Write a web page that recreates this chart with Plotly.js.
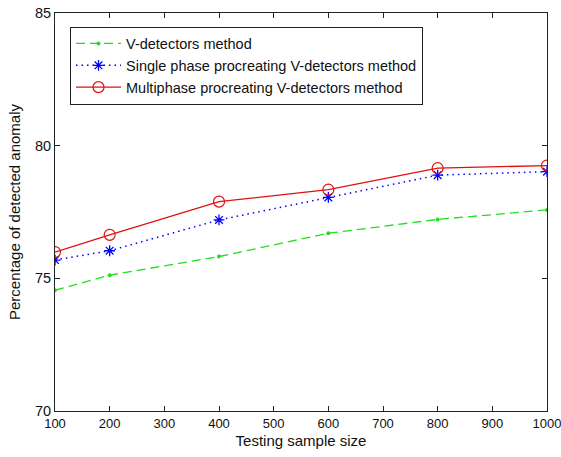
<!DOCTYPE html>
<html>
<head>
<meta charset="utf-8">
<script src="https://cdn.plot.ly/plotly-3.0.1.min.js"></script>
<style>html,body{margin:0;padding:0;background:#fff;}#chart{width:561px;height:457px;}</style>
</head>
<body>
<div id="chart"></div>
<script>
const sampleSizes = [100, 200, 400, 600, 800, 1000];
const vDetectors = [74.55, 75.12, 75.82, 76.70, 77.22, 77.58];
const singlePhase = [75.69, 76.04, 77.20, 78.05, 78.89, 79.02];
const multiPhase = [75.99, 76.64, 77.89, 78.34, 79.15, 79.25];
const seriesNames = ['V-detectors method', 'Single phase procreating V-detectors method', 'Multiphase procreating V-detectors method'];
const xTicks = [100, 200, 300, 400, 500, 600, 700, 800, 900, 1000];
const yTicks = [70, 75, 80, 85];

const fam = 'Liberation Sans, Arial, sans-serif';
const font = {family: fam, size: 15, color: '#111'};
const xTickFont = {family: fam, size: 13, color: '#111'};
const yTickFont = {family: fam, size: 14.5, color: '#111'};

const traces = [
  {x: sampleSizes, y: vDetectors, name: seriesNames[0], mode: 'lines+markers',
   line: {color: '#22dd22', dash: '9px,5px', width: 1.3},
   marker: {symbol: 'circle', size: 4, color: '#22dd22'}},
  {x: sampleSizes, y: singlePhase, name: seriesNames[1], mode: 'lines+markers',
   line: {color: '#0000ff', dash: '1.5px,4px', width: 1.5},
   marker: {symbol: 'asterisk-open', size: 9, line: {color: '#0000ff', width: 1.3}}},
  {x: sampleSizes, y: multiPhase, name: seriesNames[2], mode: 'lines+markers',
   line: {color: '#e01010', width: 1.3},
   marker: {symbol: 'circle-open', size: 11, line: {color: '#e01010', width: 1.2}}}
];

const layout = {
  width: 561, height: 457, autosize: false,
  margin: {l: 55, r: 14, t: 13, b: 46},
  paper_bgcolor: '#fff', plot_bgcolor: '#fff',
  font: font,
  showlegend: true,
  legend: {x: 0.0305, y: 0.966, xanchor: 'left', yanchor: 'top',
    bgcolor: '#fff', bordercolor: '#222', borderwidth: 1,
    font: {family: fam, size: 14.5, color: '#111'}, tracegroupgap: 0, itemwidth: 45},
  xaxis: {range: [100, 1000], tickvals: xTicks, ticktext: xTicks.map(String),
    showgrid: false, zeroline: false, showline: true, linecolor: '#222', linewidth: 1,
    mirror: 'ticks', ticks: 'inside', ticklen: 5, tickcolor: '#222',
    ticklabeloverflow: 'allow',
    tickfont: xTickFont, title: {text: 'Testing sample size', font: font, standoff: 5}},
  yaxis: {range: [70, 85], tickvals: yTicks, ticktext: yTicks.map(String),
    showgrid: false, zeroline: false, showline: true, linecolor: '#222', linewidth: 1,
    mirror: 'ticks', ticks: 'inside', ticklen: 5, tickcolor: '#222',
    tickfont: yTickFont, title: {text: 'Percentage of detected anomaly', font: font, standoff: 10}}
};

Plotly.newPlot('chart', traces, layout, {displayModeBar: false, staticPlot: true});
</script>
</body>
</html>
